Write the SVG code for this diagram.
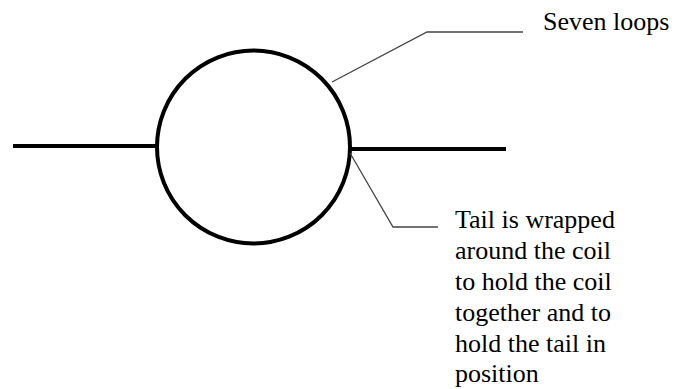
<svg xmlns="http://www.w3.org/2000/svg" width="675" height="389" viewBox="0 0 675 389">
<style>
.wire{stroke:#000;stroke-width:4;fill:none;stroke-linecap:butt}
.lead{stroke:#444;stroke-width:1.3;fill:none}
text{font-family:'Liberation Serif','Times New Roman',serif;font-size:26px;fill:#000}
</style>
<rect width="675" height="389" fill="#fff"/>
<g id="coil">
<circle class="wire" cx="253.5" cy="147" r="96.5"/>
</g>
<g id="tail-left">
<line class="wire" x1="13" y1="146" x2="157" y2="146"/>
</g>
<g id="tail-right">
<line class="wire" x1="348" y1="149" x2="506" y2="149"/>
</g>
<g id="connectors">
<polyline class="lead" points="332,82 427,32 523,32"/>
<polyline class="lead" points="350,153 393,227 438,227"/>
</g>
<g id="label-loops">
<text x="543" y="30">Seven loops</text>
</g>
<g id="label-tail">
<text x="455" y="228">Tail is wrapped</text>
<text x="455" y="259">around the coil</text>
<text x="455" y="290">to hold the coil</text>
<text x="455" y="321">together and to</text>
<text x="455" y="352">hold the tail in</text>
<text x="455" y="382">position</text>
</g>
</svg>
